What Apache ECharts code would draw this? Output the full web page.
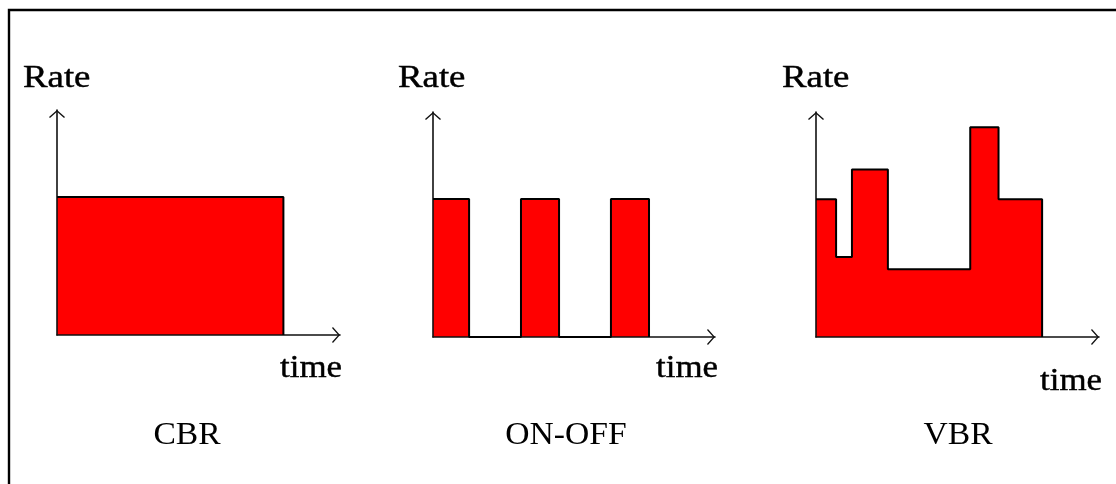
<!DOCTYPE html>
<html>
<head>
<meta charset="utf-8">
<title>CBR / ON-OFF / VBR</title>
<script src="https://cdn.jsdelivr.net/npm/echarts@6/dist/echarts.min.js"></script>
<style>
  html, body { margin: 0; padding: 0; background: #fff; }
  #chart { width: 1116px; height: 484px; }
</style>
</head>
<body>
<div id="chart"></div>
<script>
// Traffic profiles: each pair of arrays is a step function (time -> rate),
// the rate holds from one time point until the next one.
const panelNames = ['CBR', 'ON-OFF', 'VBR'];
const rateLabel = 'Rate';
const timeLabel = 'time';

const cbrTime = [0, 8];
const cbrRate = [61.3, 0];

const onOffTime = [0, 1.28, 3.12, 4.47, 6.31, 7.66];
const onOffRate = [61.3, 0, 61.3, 0, 61.3, 0];

const vbrTime = [0, 0.71, 1.27, 2.54, 5.45, 6.45, 7.99];
const vbrRate = [61.2, 35.6, 74.5, 30.1, 93.2, 61.2, 0];

const timeMax = 10;
const rateMax = 100;

const profiles = [
  { time: cbrTime, rate: cbrRate },
  { time: onOffTime, rate: onOffRate },
  { time: vbrTime, rate: vbrRate }
];

// panel frames (pixels)
const frames = [
  { left: 57,  top: 110, width: 283, height: 225 },
  { left: 433, top: 112, width: 282, height: 225 },
  { left: 816, top: 112, width: 283, height: 225 }
];

// open chevron used as the axis arrow head (tip at the top)
const chevron = 'path://M50,0 L100,44 L94,50 L50,11 L6,50 L0,44 Z';
const serif = '"Liberation Serif", "Times New Roman", "DejaVu Serif", serif';

function axisLine() {
  return {
    show: true,
    onZero: false,
    symbol: ['none', chevron],
    symbolSize: [16, 8],
    symbolOffset: [0, -4],
    lineStyle: { color: '#111', width: 1.6 }
  };
}

const grids = frames.map(f => Object.assign({ containLabel: false }, f));

const xAxes = frames.map((f, i) => ({
  type: 'value', gridIndex: i, min: 0, max: timeMax, z: 3,
  axisLine: axisLine(), axisTick: { show: false },
  axisLabel: { show: false }, splitLine: { show: false }
}));

const yAxes = frames.map((f, i) => ({
  type: 'value', gridIndex: i, min: 0, max: rateMax, z: 3,
  axisLine: axisLine(), axisTick: { show: false },
  axisLabel: { show: false }, splitLine: { show: false }
}));

const series = profiles.map((p, i) => ({
  name: panelNames[i],
  type: 'line',
  xAxisIndex: i,
  yAxisIndex: i,
  step: 'end',
  symbol: 'none',
  showSymbol: false,
  silent: true,
  data: p.time.map((t, k) => [t, p.rate[k]]),
  lineStyle: { color: '#000', width: 2 },
  itemStyle: { color: '#ff0000' },
  areaStyle: { color: '#ff0000', opacity: 1 }
}));

function label(text, x, y, size, sx, align, heavy) {
  return {
    type: 'text',
    x: x, y: y,
    scaleX: sx,
    silent: true,
    style: {
      text: text,
      x: 0, y: 0,
      font: size + 'px ' + serif,
      fill: '#000',
      stroke: heavy ? '#000' : null,
      lineWidth: heavy ? 0.45 : 0,
      align: align || 'left',
      verticalAlign: 'middle'
    }
  };
}

const graphics = [
  // page frame (top and left edges)
  {
    type: 'polyline', silent: true,
    shape: { points: [[9, 484], [9, 10], [1116, 10]] },
    style: { stroke: '#000', lineWidth: 2.4, fill: null }
  }
];

const rateX = [23, 398, 782];
const timeX = [280, 656, 1040];
const timeY = [369, 369, 382];
const nameX = [187, 566, 958];
for (let i = 0; i < 3; i++) {
  graphics.push(label(rateLabel, rateX[i], 79, 32, 1.15, 'left', true));
  graphics.push(label(timeLabel, timeX[i], timeY[i], 32, 1.09, 'left', true));
  graphics.push(label(panelNames[i], nameX[i], 436, 32, 1.05, 'center', false));
}

const chart = echarts.init(document.getElementById('chart'), null, { renderer: 'canvas' });
chart.setOption({
  animation: false,
  backgroundColor: '#fff',
  grid: grids,
  xAxis: xAxes,
  yAxis: yAxes,
  series: series,
  graphic: graphics
});
</script>
</body>
</html>
